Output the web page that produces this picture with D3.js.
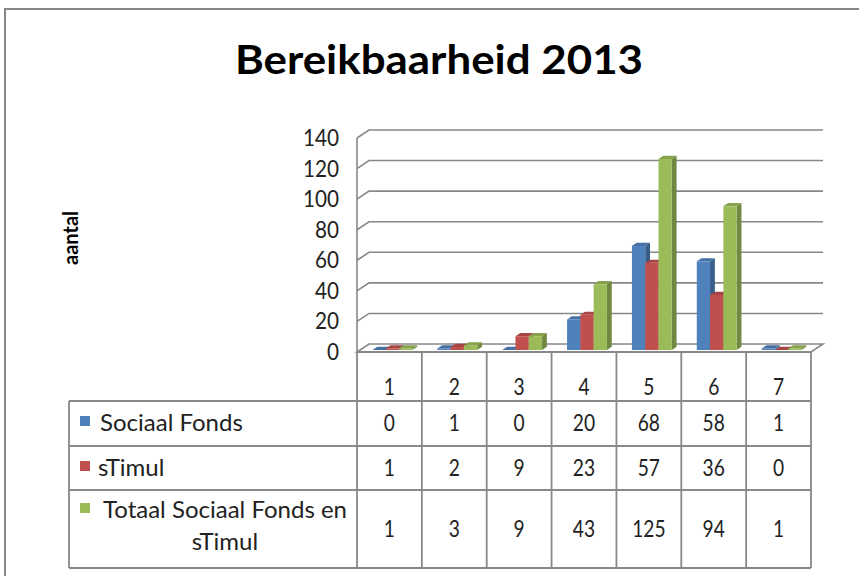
<!DOCTYPE html>
<html>
<head>
<meta charset="utf-8">
<script src="https://cdn.jsdelivr.net/npm/d3@7"></script>
<style>
  body { margin: 0; background: #fff; }
  text { font-family: Lato, "Open Sans", sans-serif; fill: #222; }
</style>
</head>
<body>
<div id="chart"></div>
<script>
// data
var categories = ["1", "2", "3", "4", "5", "6", "7"];
var seriesNames = ["Sociaal Fonds", "sTimul", "Totaal Sociaal Fonds en sTimul"];
var sociaalFonds = [0, 1, 0, 20, 68, 58, 1];
var stimul = [1, 2, 9, 23, 57, 36, 0];
var totaal = [1, 3, 9, 43, 125, 94, 1];
var yTicks = [0, 20, 40, 60, 80, 100, 120, 140];

var seriesValues = [sociaalFonds, stimul, totaal];
var colors = ["#4F81BD", "#C0504D", "#9BBB59"];

var width = 859, height = 576;

var svg = d3.select("#chart")
  .append("svg")
    .attr("width", width)
    .attr("height", height);

// narrow the glyphs a bit (the original font is Calibri, which is condensed)
function squeeze(sel, f) {
  sel.each(function() {
    var len = this.getComputedTextLength();
    d3.select(this)
      .attr("textLength", len * f)
      .attr("lengthAdjust", "spacingAndGlyphs");
  });
}

// outer frame
svg.append("rect")
  .attr("x", 5).attr("y", 9)
  .attr("width", 880).attr("height", 600)
  .attr("fill", "none")
  .attr("stroke", "#878787")
  .attr("stroke-width", 2);

// title
svg.append("text")
  .attr("x", 439).attr("y", 74)
  .attr("text-anchor", "middle")
  .attr("font-size", 41)
  .attr("font-weight", "bold")
  .attr("textLength", 408)
  .attr("lengthAdjust", "spacingAndGlyphs")
  .style("fill", "#000")
  .text("Bereikbaarheid 2013");

// scales
var x = d3.scaleBand()
  .domain(categories)
  .range([357, 811]);
var xi = d3.scaleBand()
  .domain(seriesNames)
  .range([0, x.bandwidth()])
  .paddingInner(0)
  .paddingOuter(0.94);
var y = d3.scaleLinear()
  .domain([0, 140])
  .range([352, 138]);

// 3d depth offsets (front -> back)
var depthX = 12, depthY = -8;
function px(xv, z) { return xv + depthX * z; }
function py(yv, z) { return yv + depthY * z; }
function pts(arr) { return arr.map(function(p) { return p.join(","); }).join(" "); }

var gridColor = "#888";

// floor
var x0 = x.range()[0], x1 = x.range()[1];
svg.append("polygon")
  .attr("points", pts([[px(x0,0), py(y(0),0)], [px(x1,0), py(y(0),0)],
                       [px(x1,1), py(y(0),1)], [px(x0,1), py(y(0),1)]]))
  .attr("fill", "#fff")
  .attr("stroke", gridColor)
  .attr("stroke-width", 1.6);

// gridlines on left + back wall
svg.append("g")
  .selectAll("polyline")
  .data(yTicks.slice(1))
  .enter()
  .append("polyline")
    .attr("points", function(t) {
      return pts([[px(x0,0), py(y(t),0)], [px(x0,1), py(y(t),1)], [px(x1,1), py(y(t),1)]]);
    })
    .attr("fill", "none")
    .attr("stroke", gridColor)
    .attr("stroke-width", 1.6);

// value axis line
svg.append("line")
  .attr("x1", x0).attr("x2", x0)
  .attr("y1", y(0)).attr("y2", y(140))
  .attr("stroke", gridColor)
  .attr("stroke-width", 1.6);

// tick labels
svg.append("g")
  .selectAll("text")
  .data(yTicks)
  .enter()
  .append("text")
    .attr("x", 339)
    .attr("y", function(t) { return y(t); })
    .attr("dy", "0.35em")
    .attr("text-anchor", "end")
    .attr("font-size", 23)
    .text(function(t) { return t; })
    .call(squeeze, 0.9);

// axis title
svg.append("text")
  .attr("transform", "translate(78,238) rotate(-90)")
  .attr("text-anchor", "middle")
  .attr("font-size", 20)
  .attr("font-weight", "bold")
  .style("fill", "#000")
  .text("aantal");

// bars
var z0 = 0.25, z1 = 0.65;
var bars = [];
categories.forEach(function(c, i) {
  seriesNames.forEach(function(s, j) {
    bars.push({cat: c, series: s, value: seriesValues[j][i], color: colors[j]});
  });
});

var bar = svg.append("g")
  .selectAll("g")
  .data(bars)
  .enter()
  .append("g");

bar.append("polygon") // side
  .attr("points", function(d) {
    var bx = x(d.cat) + xi(d.series) + xi.bandwidth();
    return pts([[px(bx,z0), py(y(d.value),z0)], [px(bx,z1), py(y(d.value),z1)],
                [px(bx,z1), py(y(0),z1)], [px(bx,z0), py(y(0),z0)]]);
  })
  .attr("fill", function(d) { return d3.color(d.color).darker(0.9); });

bar.append("polygon") // top
  .attr("points", function(d) {
    var bx = x(d.cat) + xi(d.series), bw = xi.bandwidth();
    return pts([[px(bx,z0), py(y(d.value),z0)], [px(bx+bw,z0), py(y(d.value),z0)],
                [px(bx+bw,z1), py(y(d.value),z1)], [px(bx,z1), py(y(d.value),z1)]]);
  })
  .attr("fill", function(d) { return d3.color(d.color).darker(0.4); });

bar.append("rect") // front
  .attr("x", function(d) { return px(x(d.cat) + xi(d.series), z0); })
  .attr("y", function(d) { return py(y(d.value), z0); })
  .attr("width", xi.bandwidth())
  .attr("height", function(d) { return y(0) - y(d.value); })
  .attr("fill", function(d) { return d.color; });

// data table
var tableLeft = 69;
var rowLines = [352, 401, 446, 490, 568];
var table = svg.append("g")
  .attr("stroke", gridColor)
  .attr("stroke-width", 1.8);

table.selectAll("line.h")
  .data(rowLines)
  .enter()
  .append("line")
    .attr("x1", function(r, i) { return i == 0 ? x0 : tableLeft; })
    .attr("x2", x1)
    .attr("y1", function(r) { return r; })
    .attr("y2", function(r) { return r; });

var colLines = categories.map(function(c) { return x(c); }).concat([x1]);
table.selectAll("line.v")
  .data(colLines)
  .enter()
  .append("line")
    .attr("x1", function(c) { return c; })
    .attr("x2", function(c) { return c; })
    .attr("y1", rowLines[0])
    .attr("y2", rowLines[4]);

table.append("line")
  .attr("x1", tableLeft).attr("x2", tableLeft)
  .attr("y1", rowLines[1]).attr("y2", rowLines[4]);

// category header
svg.append("g")
  .selectAll("text")
  .data(categories)
  .enter()
  .append("text")
    .attr("x", function(c) { return x(c) + x.bandwidth() / 2; })
    .attr("y", 395)
    .attr("text-anchor", "middle")
    .attr("font-size", 24)
    .text(function(c) { return c; })
    .call(squeeze, 0.8);

// rows: legend key + values
var rowMid = [423, 468, 529];
seriesNames.forEach(function(s, j) {
  var g = svg.append("g");
  g.append("rect")
    .attr("x", 80)
    .attr("y", j == 2 ? 503 : rowMid[j] - 7)
    .attr("width", 10).attr("height", 10)
    .attr("fill", colors[j]);
  if (j == 2) {
    g.append("text")
      .attr("x", 103).attr("y", 518)
      .attr("font-size", 24)
      .attr("textLength", 244)
      .attr("lengthAdjust", "spacingAndGlyphs")
      .text("Totaal Sociaal Fonds en");
    g.append("text")
      .attr("x", 225).attr("y", 550)
      .attr("text-anchor", "middle")
      .attr("font-size", 24)
      .text("sTimul");
  } else {
    g.append("text")
      .attr("x", j == 0 ? 100 : 98)
      .attr("y", rowMid[j])
      .attr("dy", "0.35em")
      .attr("font-size", 24)
      .text(s);
  }
  g.selectAll("text.v")
    .data(seriesValues[j])
    .enter()
    .append("text")
      .attr("x", function(v, i) { return x(categories[i]) + x.bandwidth() / 2; })
      .attr("y", rowMid[j])
      .attr("dy", "0.35em")
      .attr("text-anchor", "middle")
      .attr("font-size", 24)
      .text(function(v) { return v; })
      .call(squeeze, 0.8);
});
</script>
</body>
</html>
